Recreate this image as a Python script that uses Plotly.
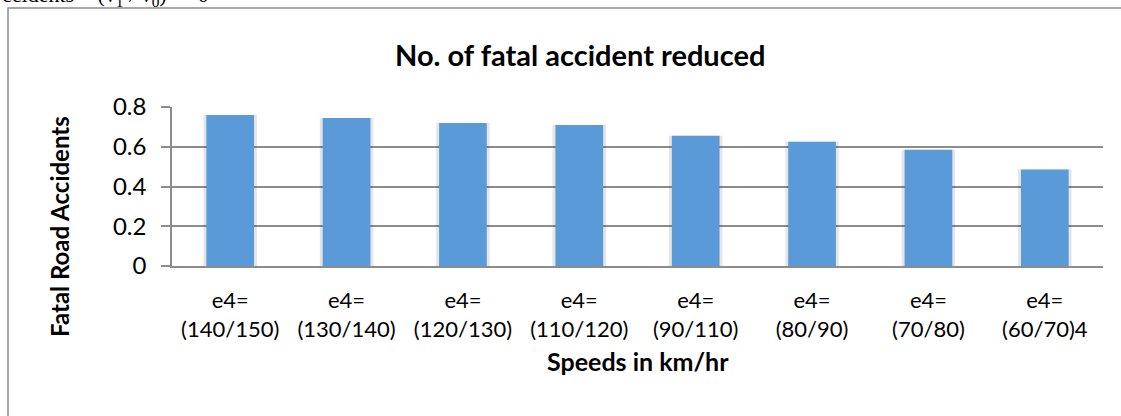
import plotly.graph_objects as go

categories = ["e4=<br>(140/150)", "e4=<br>(130/140)", "e4=<br>(120/130)", "e4=<br>(110/120)",
              "e4=<br>(90/110)", "e4=<br>(80/90)", "e4=<br>(70/80)", "e4=<br>(60/70)4"]
values = [0.76, 0.745, 0.72, 0.71, 0.655, 0.625, 0.585, 0.485]
y_ticks = [0, 0.2, 0.4, 0.6, 0.8]
y_tick_labels = ["0", "0.2", "0.4", "0.6", "0.8"]

W, H = 1121, 416
L, R, T, B = 172, 18, 107, 150
pw, ph = W - L - R, H - T - B

def px_x(px):
    return (px - L) / pw

def px_y(py):
    return (H - B - py) / ph

FONT = "Lato"
GRAY = "#8c8c8c"

fig = go.Figure()
# soft shadow behind bars
fig.add_trace(go.Bar(x=categories, y=values, width=0.46,
                     marker=dict(color="rgba(0,0,0,0.10)", line=dict(width=0)),
                     hoverinfo="skip", showlegend=False))
fig.add_trace(go.Bar(x=categories, y=values, width=0.41,
                     marker=dict(color="#5a9ad9", line=dict(width=0)),
                     showlegend=False))

fig.update_layout(
    width=W, height=H,
    margin=dict(l=L, r=R, t=T, b=B),
    paper_bgcolor="white", plot_bgcolor="white",
    barmode="overlay",
    font=dict(family=FONT, color="black", size=22),
    xaxis=dict(showline=True, linecolor=GRAY, linewidth=1.5, ticks="", showgrid=False,
               tickfont=dict(size=22, family=FONT), ticklabelstandoff=14, fixedrange=True),
    yaxis=dict(range=[0, 0.8], tickvals=y_ticks, ticktext=y_tick_labels,
               showgrid=True, gridcolor=GRAY, gridwidth=1.5, zeroline=False,
               showline=True, linecolor=GRAY, linewidth=1.5,
               ticks="outside", ticklen=9, tickcolor=GRAY, tickwidth=1.5,
               ticklabelstandoff=10, tickfont=dict(size=24, family=FONT)),
    shapes=[dict(type="rect", xref="paper", yref="paper",
                 x0=px_x(8), x1=px_x(1135), y0=px_y(430), y1=px_y(8),
                 line=dict(color=GRAY, width=1.5), fillcolor="rgba(0,0,0,0)", layer="below")],
    annotations=[
        dict(text="<b>No. of fatal accident reduced</b>", xref="paper", yref="paper",
             x=px_x(580), y=px_y(54), xanchor="center", yanchor="middle",
             showarrow=False, font=dict(size=29, family=FONT)),
        dict(text="<b>Fatal Road Accidents</b>", xref="paper", yref="paper",
             x=px_x(59), y=px_y(227), xanchor="center", yanchor="middle", textangle=-90,
             showarrow=False, font=dict(size=24, family=FONT)),
        dict(text="<b>Speeds in km/hr</b>", xref="paper", yref="paper",
             x=px_x(638), y=px_y(361), xanchor="center", yanchor="middle",
             showarrow=False, font=dict(size=25, family=FONT)),
        dict(text="ccidents = (v<sub>1</sub> / v<sub>0</sub>)<sup>4</sup> = 0", xref="paper", yref="paper",
             x=px_x(0), y=px_y(-5), xanchor="left", yanchor="middle",
             showarrow=False, font=dict(size=22, family="Liberation Serif")),
    ],
)

fig.write_html("out.html", config={"displayModeBar": False},
               post_script="document.body.style.margin='0';")
